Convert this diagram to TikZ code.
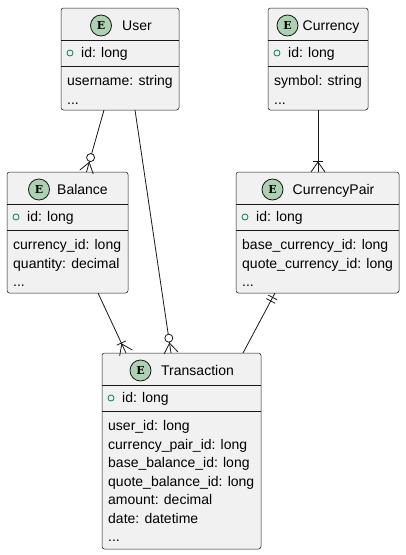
\documentclass[tikz,border=0pt]{standalone}
\usepackage{fontspec}
\setmainfont{Liberation Sans}
\newfontfamily\eserif{DejaVu Serif}
\usetikzlibrary{calc}
\definecolor{boxfill}{HTML}{F1F1F1}
\definecolor{boxline}{HTML}{181818}
\definecolor{badge}{HTML}{ADD1B2}
\definecolor{idgreen}{HTML}{038048}
\tikzset{
  entbox/.style={draw=boxline, line width=0.5pt, fill=boxfill, rounded corners=2.5pt, inner sep=0pt, outer sep=0pt},
  thinsep/.style={draw=boxline, line width=0.5pt},
  thicksep/.style={draw=boxline, line width=0.9pt},
  badgec/.style={draw=boxline, line width=0.8pt, fill=badge},
  badgetxt/.style={inner sep=0pt, font=\eserif\bfseries\fontsize{11}{11}\selectfont},
  txt/.style={anchor=base west, inner sep=0pt, font=\fontsize{14}{16}\selectfont, text=black},
  conn/.style={draw=boxline, line width=0.8pt},
  idmark/.style={draw=idgreen, line width=0.8pt},
}
% #1 name, #2 left, #3 top, #4 right, #5 bottom, #6 title, #7 badge x, #8 title x
\newcommand\entity[8]{%
  \node[entbox, minimum width={(#4-#2)*1pt}, minimum height={(#5-#3)*1pt}] (#1) at ({(#2+#4)/2},{(#3+#5)/2}) {};
  \draw[thinsep] ($(#1.north west)+(0,32)$) -- ($(#1.north east)+(0,32)$);
  \draw[thicksep] ($(#1.north west)+(0,58)$) -- ($(#1.north east)+(0,58)$);
  \draw[badgec] (#7,{#3+17.5}) circle (10.5);
  \node[badgetxt] (#1-e) at (#7,{#3+17.5}) {E};
  \node[txt] (#1-title) at (#8,{#3+22.5}) {#6};
  \draw[idmark] ($(#1.north west)+(9,45)$) circle (3);
  \node[txt] (#1-id) at ($(#1.north west)+(20,49.5)$) {id: long};
}
% #1 entity, #2 row index, #3 text
\newcommand\fld[3]{%
  \node[txt] (#1-f#2) at ($(#1.north west)+(6,{77.5+18.5*#2})$) {#3};
}
% crow's foot at #2, line coming from #1
\newcommand\crowfoot[2]{%
  \draw[conn] ($(#2)!10pt!(#1)$) -- ($(#2)!7pt!90:(#1)$);
  \draw[conn] ($(#2)!10pt!(#1)$) -- ($(#2)!7pt!-90:(#1)$);
}
\newcommand\zeromany[2]{%
  \draw[conn] (#1) -- (#2);
  \crowfoot{#1}{#2}
  \draw[conn, fill=white] ($(#2)!15pt!(#1)$) circle (4);
}
\newcommand\onemany[2]{%
  \draw[conn] (#1) -- (#2);
  \crowfoot{#1}{#2}
  \draw[conn] ($(#2)!11pt!(#1)!5pt!90:(#1)$) -- ($(#2)!11pt!(#1)!5pt!-90:(#1)$);
}
\newcommand\onlyone[2]{%
  \draw[conn] (#1) -- (#2);
  \draw[conn] ($(#1)!5pt!(#2)!5pt!90:(#2)$) -- ($(#1)!5pt!(#2)!5pt!-90:(#2)$);
  \draw[conn] ($(#1)!9pt!(#2)!5pt!90:(#2)$) -- ($(#1)!9pt!(#2)!5pt!-90:(#2)$);
}
\begin{document}
\begin{tikzpicture}[x=1pt, y=-1pt]
  \fill[white] (0,0) rectangle (406,555);
  \useasboundingbox (0,0) rectangle (406,555);

  \entity{user}{61}{8}{179}{110}{User}{101}{122}
  \fld{user}{0}{username: string}
  \fld{user}{1}{...}

  \entity{currency}{268}{8}{368}{110}{Currency}{287.5}{302.5}
  \fld{currency}{0}{symbol: string}
  \fld{currency}{1}{...}

  \entity{balance}{7}{172}{128}{293}{Balance}{39}{57}
  \fld{balance}{0}{currency\_id: long}
  \fld{balance}{1}{quantity: decimal}
  \fld{balance}{2}{...}

  \entity{cpair}{236}{172}{399}{293}{CurrencyPair}{272.5}{292.5}
  \fld{cpair}{0}{base\_currency\_id: long}
  \fld{cpair}{1}{quote\_currency\_id: long}
  \fld{cpair}{2}{...}

  \entity{trans}{102}{353}{261}{549}{Transaction}{140.5}{161}
  \fld{trans}{0}{user\_id: long}
  \fld{trans}{1}{currency\_pair\_id: long}
  \fld{trans}{2}{base\_balance\_id: long}
  \fld{trans}{3}{quote\_balance\_id: long}
  \fld{trans}{4}{amount: decimal}
  \fld{trans}{5}{date: datetime}
  \fld{trans}{6}{...}

  \coordinate (u-b) at ($(user.south west)+(43,0)$);
  \coordinate (b-u) at ($(balance.north west)+(79.5,0)$);
  \coordinate (u-t) at ($(user.south west)+(74,0)$);
  \coordinate (t-u) at ($(trans.north west)+(69,0)$);
  \coordinate (c-p) at ($(currency.south west)+(50,0)$);
  \coordinate (p-c) at ($(cpair.north west)+(82,0)$);
  \coordinate (b-t) at ($(balance.south west)+(91,0)$);
  \coordinate (t-b) at ($(trans.north west)+(24,0)$);
  \coordinate (p-t) at ($(cpair.south west)+(39,0)$);
  \coordinate (t-p) at ($(trans.north west)+(141,0)$);

  \zeromany{u-b}{b-u}
  \zeromany{u-t}{t-u}
  \onemany{c-p}{p-c}
  \onemany{b-t}{t-b}
  \onlyone{p-t}{t-p}
\end{tikzpicture}
\end{document}
